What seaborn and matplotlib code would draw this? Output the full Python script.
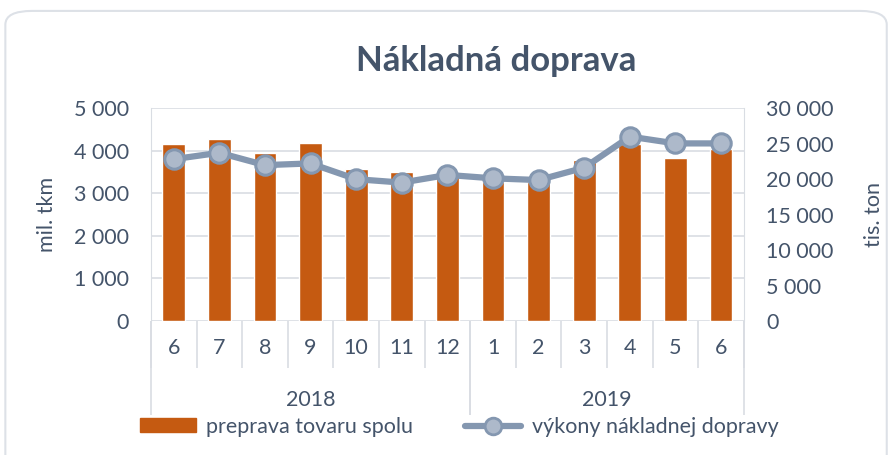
import numpy as np
import pandas as pd
import matplotlib
matplotlib.use("Agg")
import matplotlib.pyplot as plt
import seaborn as sns
from matplotlib.patches import FancyBboxPatch
from matplotlib.ticker import FuncFormatter, FixedLocator

# hodnoty odcitane z grafu
mesiace = ["6", "7", "8", "9", "10", "11", "12", "1", "2", "3", "4", "5", "6"]
roky = ["2018", "2019"]
mesiacov_v_roku = [7, 6]
preprava_tis_ton = [24900, 25700, 23600, 25100, 21400, 21000, 20700,
                    19600, 19600, 22700, 25000, 22900, 24200]
vykony_mil_tkm = [3800, 3950, 3660, 3700, 3330, 3250, 3430,
                  3350, 3310, 3600, 4330, 4170, 4170]

TXT = "#44546A"
GRID = "#D9DDE3"
BAR = "#C55A11"
LINE = "#8497B0"
MFILL = "#ADB9CA"
FS = 15.5

sns.set_style("white")
plt.rcParams["font.family"] = ["Lato", "DejaVu Sans"]

df = pd.DataFrame({"idx": np.arange(len(mesiace)),
                   "preprava": preprava_tis_ton,
                   "vykony": vykony_mil_tkm})

fig = plt.figure(figsize=(8.93, 4.55), dpi=100)
ax = fig.add_axes([0.169, 0.2945, 0.664, 0.468])
ax2 = ax.twinx()

# stlpce na pravej osi (tis. ton)
sns.barplot(data=df, x="idx", y="preprava", ax=ax2, color=BAR,
            width=0.5, saturation=1, zorder=2)
# ciara na lavej osi (mil. tkm)
sns.lineplot(data=df, x="idx", y="vykony", ax=ax, color=LINE, lw=4.5,
             marker="o", markersize=14, markerfacecolor=MFILL,
             markeredgecolor=LINE, markeredgewidth=2.2, zorder=5)
ax.set_zorder(ax2.get_zorder() + 1)
ax.patch.set_visible(False)

ax.set_xlim(-0.5, len(mesiace) - 0.5)
ax.set_ylim(0, 5000)
ax2.set_ylim(0, 30000)
ax.set_yticks(np.arange(0, 5001, 1000))
ax2.set_yticks(np.arange(0, 30001, 5000))
fmt = FuncFormatter(lambda v, p: f"{int(v):,}".replace(",", " "))
ax.yaxis.set_major_formatter(fmt)
ax2.yaxis.set_major_formatter(fmt)

ax2.grid(False)
for y in np.arange(0, 5001, 1000):
    ax2.axhline(y * 6, color=GRID, lw=1.2, zorder=0)

for a in (ax, ax2):
    for s in a.spines.values():
        s.set_visible(False)
    a.tick_params(axis="y", length=0, labelsize=FS, labelcolor=TXT, pad=16)
ax.spines["left"].set_visible(True)
ax.spines["left"].set_color(GRID)
ax.spines["right"].set_visible(True)
ax.spines["right"].set_color(GRID)

ax.set_ylabel("mil. tkm", fontsize=FS, color=TXT, labelpad=12)
ax2.set_ylabel("tis. ton", fontsize=FS, color=TXT, labelpad=22)
ax.set_xlabel("")
ax2.set_xlabel("")

# dvojurovnova os x: mesiace a roky
ax.xaxis.set_major_locator(FixedLocator(np.arange(len(mesiace))))
ax.set_xticklabels(mesiace)
ax.tick_params(axis="x", length=0, labelsize=FS, labelcolor=TXT, pad=12)
tr = ax.get_xaxis_transform()
hranice = np.arange(len(mesiace) + 1) - 0.5
ax.vlines(hranice, -0.22, 0, transform=tr, colors=GRID, lw=1.2, clip_on=False)
start = 0
for rok, n in zip(roky, mesiacov_v_roku):
    ax.vlines([start - 0.5, start + n - 0.5], -0.44, 0, transform=tr,
              colors=GRID, lw=1.2, clip_on=False)
    ax.text(start + (n - 1) / 2, -0.37, rok, transform=tr, ha="center",
            va="center", fontsize=FS, color=TXT)
    start += n

fig.text(0.556, 0.865, "Nákladná doprava", ha="center", va="center",
         fontsize=25, fontweight="bold", color=TXT)

h_bar = plt.Rectangle((0, 0), 1, 1, color=BAR)
h_line = plt.Line2D([], [], color=LINE, lw=4.5, marker="o", markersize=12,
                    markerfacecolor=MFILL, markeredgecolor=LINE, markeredgewidth=2)
fig.legend([h_bar, h_line], ["preprava tovaru spolu", "výkony nákladnej dopravy"],
           loc="center", bbox_to_anchor=(0.514, 0.062), ncol=2, frameon=False,
           fontsize=FS, labelcolor=TXT, handlelength=2.6, handleheight=0.6,
           handletextpad=0.5, columnspacing=2.4)

box = FancyBboxPatch((0.006, -0.1), 0.987, 1.076, transform=fig.transFigure,
                     boxstyle="round,pad=0,rounding_size=0.03",
                     fc="none", ec="#DDE1E7", lw=1.5)
fig.patches.append(box)

fig.savefig("out.png", dpi=100)
